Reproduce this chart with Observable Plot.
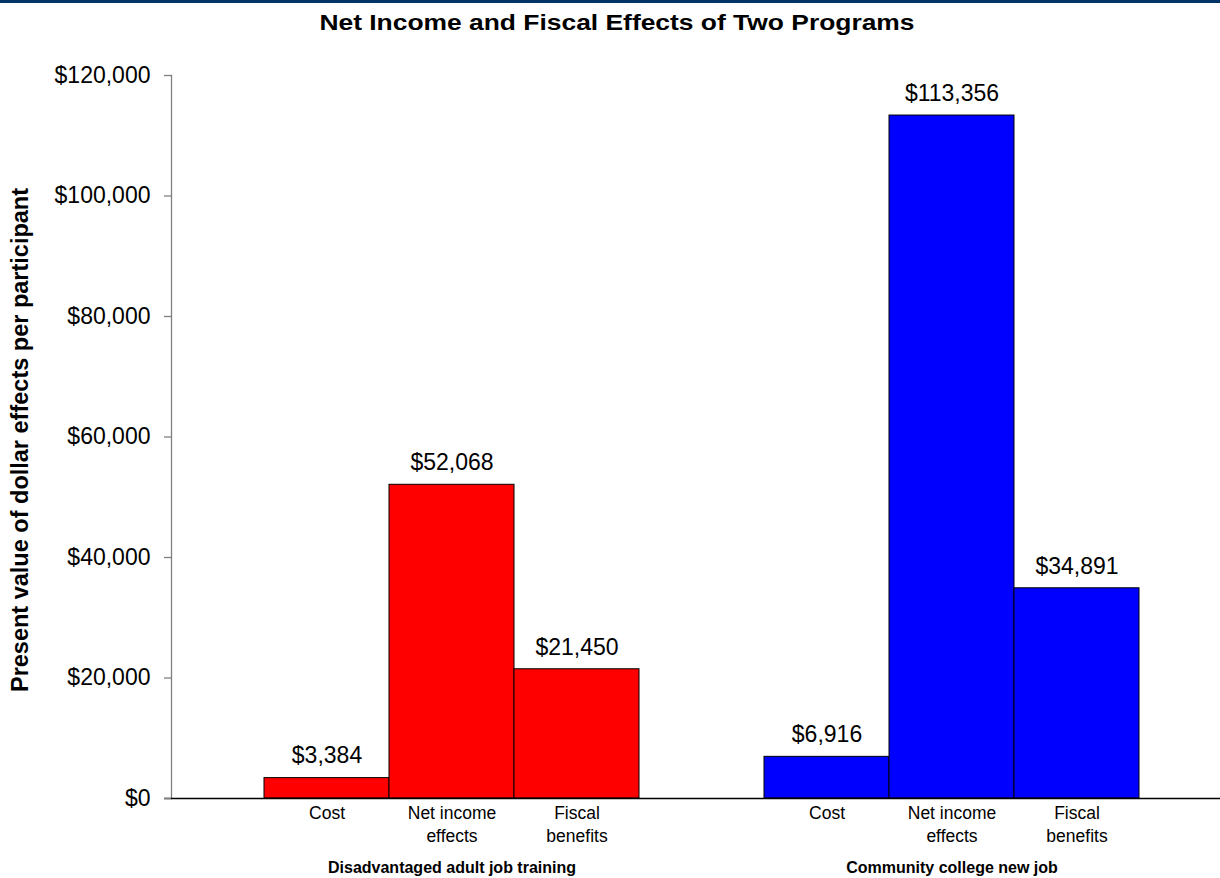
<!DOCTYPE html>
<html>
<head>
<meta charset="utf-8">
<script src="https://cdn.jsdelivr.net/npm/d3@7"></script>
<script src="https://cdn.jsdelivr.net/npm/@observablehq/plot@0.6"></script>
<style>
  html, body { margin: 0; padding: 0; background: #fff; }
  body { width: 1220px; height: 878px; overflow: hidden; border-top: 3px solid #003366; box-sizing: border-box; font-family: "Liberation Sans", Arial, sans-serif; }
  #title { height: 37px; line-height: 40px; text-align: center; color: #000; padding-left: 14px; }
  #title span { display: inline-block; font-weight: bold; font-size: 22px; transform: scaleX(1.2); }
</style>
</head>
<body>
<div id="title"><span>Net Income and Fiscal Effects of Two Programs</span></div>
<div id="chart"></div>
<script>
const groups = ["Disadvantaged adult job training", "Community college new job"];
const groupKeys = ["A", "B"];
const categories = ["Cost", "Net income\neffects", "Fiscal\nbenefits"];
const training = [3384, 52068, 21450];
const college = [6916, 113356, 34891];
const groupColors = ["#ff0000", "#0000ff"];
const yTicks = [0, 20000, 40000, 60000, 80000, 100000, 120000];
const yTitle = "Present value of dollar effects per participant";

const series = [training, college];
const rows = [];
groupKeys.forEach((g, gi) => {
  categories.forEach((c, ci) => {
    rows.push({key: g + "|" + c, group: groups[gi], category: c, value: series[gi][ci], color: groupColors[gi]});
  });
});
const xDomain = [
  ...categories.map(c => "A|" + c),
  "gap",
  ...categories.map(c => "B|" + c)
];
const groupLabels = groupKeys.map((g, gi) => ({key: g + "|" + categories[1], label: groups[gi]}));
const fmt = d => "$" + d3.format(",")(d);

const chart = Plot.plot({
  width: 1220,
  height: 838,
  marginLeft: 171,
  marginRight: 0,
  marginTop: 35,
  marginBottom: 80,
  style: {fontFamily: "'Liberation Sans', Arial, sans-serif", background: "#fff", overflow: "visible"},
  x: {type: "band", domain: xDomain, padding: 0, insetLeft: 93, insetRight: 81, axis: null},
  y: {domain: [0, 120000], axis: null},
  marks: [
    Plot.barY(rows, {x: "key", y: "value", fill: "color", stroke: "#000", strokeWidth: 1}),
    Plot.frame({anchor: "left", stroke: "#808080", strokeWidth: 1.3}),
    Plot.ruleY([0], {stroke: "#000", strokeWidth: 1.3, insetLeft: -7}),
    Plot.axisY({ticks: yTicks, tickFormat: fmt, tickSize: 7, tickPadding: 14, fontSize: 23, stroke: "#808080", strokeWidth: 1.3, fill: "#000", label: null}),
    Plot.text(rows, {x: "key", y: "value", text: d => fmt(d.value), dy: -22, fontSize: 23, fill: "#000"}),
    Plot.text(rows, {x: "key", text: "category", frameAnchor: "bottom", lineAnchor: "top", dy: 3, fontSize: 17.5, lineHeight: 1.37, fill: "#000"}),
    Plot.text(groupLabels, {x: "key", text: "label", frameAnchor: "bottom", dy: 74, fontSize: 16, fontWeight: "bold", fill: "#000"}),
    Plot.text([yTitle], {text: d => d, frameAnchor: "left", textAnchor: "middle", rotate: -90, dx: -151, dy: 3, fontSize: 23.5, fontWeight: "bold", fill: "#000"})
  ]
});
document.getElementById("chart").appendChild(chart);
</script>
</body>
</html>
